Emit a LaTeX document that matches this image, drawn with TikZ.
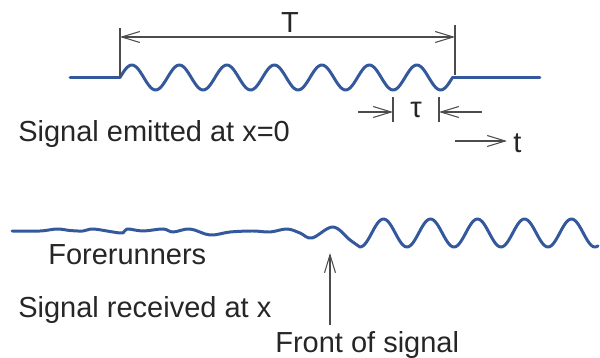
\documentclass[tikz,border=0pt]{standalone}
\usepackage{fontspec}
\setmainfont{Liberation Sans}
\usetikzlibrary{arrows.meta}
\definecolor{wave}{RGB}{52,88,156}

\begin{document}
\begin{tikzpicture}[
		x=0.02cm, y=-0.02cm,
		signal/.style={draw=wave, line width=1.7pt, line join=round, line cap=round},
		dim/.style={draw=black!70, line width=0.6pt},
		barb/.style={-{Straight Barb[length=0.36cm, width=0.22cm]}},
		twobarb/.style={{Straight Barb[length=0.36cm, width=0.22cm]}-{Straight Barb[length=0.36cm, width=0.22cm]}},
		label/.style={inner sep=0pt, anchor=base west, text=black!85, font=\fontsize{16.5}{20}\selectfont}
	]
	\useasboundingbox (0,0) rectangle (600,358);

	% Emitted signal
	\draw[signal] (70,77.5) -- (120,77.5)
		-- plot[domain=120:452.5, samples=200] (\x, {77.5-12.5*sin((\x-120)*7.5789)})
		-- (540,77.5);

	% Duration T
	\coordinate (Ts) at (120,37);
	\coordinate (Te) at (455,37);
	\draw[dim] (Ts) ++(0,-9) -- ++(0,49);
	\draw[dim] (Te) ++(0,-12) -- ++(0,50);
	\draw[dim, twobarb] (Ts) -- (Te);
	\node[label, anchor=base] (T) at (290,33) {T};

	% Period tau
	\coordinate (tau1) at (393,112);
	\coordinate (tau2) at (439,112);
	\coordinate (tau1in) at (358,112);
	\coordinate (tau2in) at (482,112);
	\draw[dim] (tau1) ++(0,-15) -- ++(0,25);
	\draw[dim] (tau2) ++(0,-15) -- ++(0,25);
	\draw[dim, barb] (tau1in) -- (tau1);
	\draw[dim, barb] (tau2in) -- (tau2);
	\node[label, anchor=base] (tau) at (416,118) {τ};

	% Time axis
	\coordinate (t0) at (455,141);
	\coordinate (t1) at (507,141);
	\draw[dim, barb] (t0) -- (t1);
	\node[label] (t) at (513,153) {t};

	\node[label] (emitted) at (18,142) {Signal emitted at x=0};

	% Received signal
	\draw[signal] plot[smooth, tension=0.6] coordinates {(12,231) (40,231) (57,229) (70,230.5) (83,231) (93,229) (113,232) (123,233) (127,229) (143,231) (163,229) (173,232) (190,229) (210,235) (230,232) (253,231) (270,232) (287,229) (300,233) (312,238) (333,227) (350,240) (360,247)}
		-- plot[domain=360:598, samples=150] (\x, {233+14*cos((\x-360)*7.6596)});

	\node[label] (fore) at (48,265) {Forerunners};
	\node[label] (received) at (18,318) {Signal received at x};

	% Front of signal
	\coordinate (front) at (330,253);
	\coordinate (fronttail) at (330,325);
	\draw[dim, barb] (fronttail) -- (front);
	\node[label] (frontlbl) at (275,353) {Front of signal};

\end{tikzpicture}
\end{document}
